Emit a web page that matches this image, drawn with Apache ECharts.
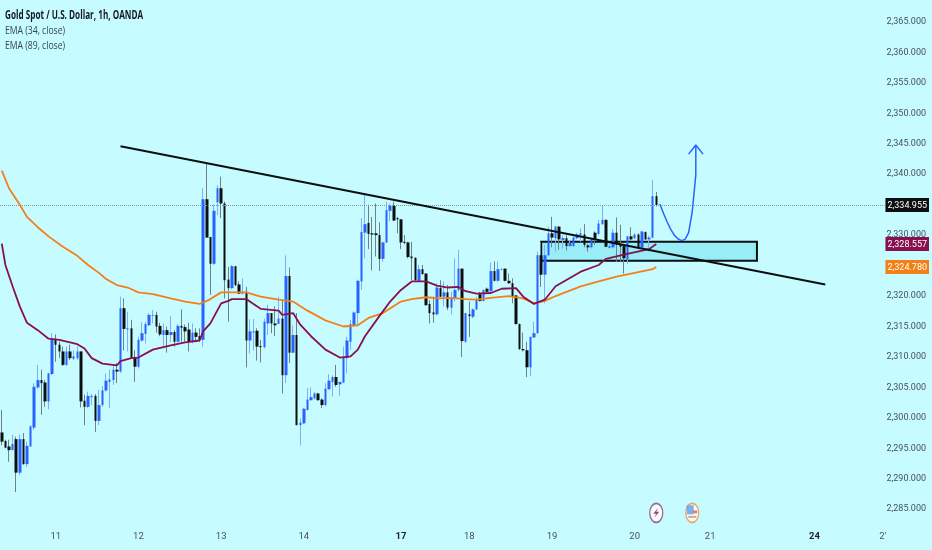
<!DOCTYPE html>
<html><head><meta charset="utf-8">
<style>html,body{margin:0;padding:0;background:#c6fbff}#c{width:932px;height:550px}</style>
<script src="https://cdn.jsdelivr.net/npm/echarts@6/dist/echarts.min.js"></script>
</head><body><div id="c"></div>
<script>
const titleText = 'Gold Spot / U.S. Dollar, 1h, OANDA';
const studyTexts = ['EMA (34, close)','EMA (89, close)'];
const barCount = 246;
const dayIndex  = [15,38,61,84,111,130,153,176,197,226,245];
const dayLabels = ['11','12','13','14','17','18','19','20','21','24',"2'"];
const strongDays = ['17','24'];
const priceTicks = [2285,2290,2295,2300,2305,2310,2315,2320,2325,2330,2335,2340,2345,2350,2355,2360,2365];
const lastPrice = 2334.955, ema34Last = 2328.557, ema89Last = 2324.780;
// [open, close, low, high]
const ohlc = [
[2297.6,2296.1,2295.5,2301.3],[2296.2,2295.1,2295.0,2296.4],[2295.3,2294.7,2292.8,2296.4],[2294.7,2295.7,2294.7,2297.2],
[2296.5,2291.0,2287.8,2296.9],[2291.0,2296.5,2290.6,2297.2],[2296.5,2292.4,2292.3,2297.5],[2292.4,2295.4,2291.9,2296.1],
[2295.3,2298.6,2295.3,2298.8],[2298.4,2305.1,2298.0,2305.7],[2305.0,2306.2,2304.8,2308.7],[2306.2,2305.7,2300.5,2307.9],
[2305.8,2302.7,2301.8,2306.2],[2302.7,2307.3,2301.4,2307.4],[2307.2,2312.9,2307.0,2313.9],[2312.9,2312.0,2309.2,2313.7],
[2312.0,2310.9,2309.8,2312.5],[2310.9,2308.7,2308.5,2311.7],[2308.7,2310.9,2308.5,2311.7],[2310.9,2309.8,2309.5,2312.0],
[2309.7,2310.1,2309.5,2311.1],[2309.8,2310.9,2309.5,2311.7],[2310.9,2302.7,2301.7,2310.9],[2302.8,2301.8,2298.8,2303.8],
[2301.8,2303.6,2301.6,2304.3],[2303.4,2303.6,2302.1,2303.9],[2303.6,2299.5,2297.7,2303.9],[2299.5,2302.1,2298.8,2304.6],
[2302.1,2304.5,2301.8,2305.2],[2304.5,2306.1,2304.3,2307.3],[2305.9,2306.3,2301.6,2307.9],[2306.2,2307.9,2305.4,2308.7],
[2307.9,2307.6,2305.7,2309.0],[2307.6,2318.0,2307.4,2319.9],[2318.0,2314.6,2311.1,2319.6],[2314.5,2314.7,2310.9,2317.4],
[2314.7,2309.9,2309.8,2316.1],[2310.0,2308.4,2305.9,2311.1],[2308.4,2312.8,2308.1,2313.3],[2312.7,2313.9,2312.5,2315.7],
[2313.8,2315.4,2312.2,2315.8],[2315.2,2316.9,2315.1,2317.2],[2316.8,2316.9,2315.5,2317.7],[2316.9,2315.0,2314.0,2317.4],
[2315.1,2313.7,2313.4,2315.6],[2313.6,2314.4,2311.7,2315.5],[2314.4,2313.6,2310.7,2315.0],[2313.6,2314.1,2312.5,2316.7],
[2314.1,2312.5,2311.7,2314.4],[2312.5,2315.1,2312.4,2315.4],[2315.1,2314.8,2312.5,2317.8],[2314.9,2314.2,2312.5,2315.3],
[2314.5,2312.6,2310.9,2315.6],[2312.5,2314.0,2312.2,2315.5],[2314.0,2313.3,2312.4,2314.7],[2313.4,2312.8,2312.5,2314.7],
[2312.8,2335.9,2311.7,2337.7],[2335.9,2329.6,2329.6,2341.7],[2329.7,2325.3,2320.2,2329.7],[2325.3,2334.0,2325.1,2335.0],
[2335.4,2337.7,2333.3,2338.2],[2337.7,2335.2,2332.8,2339.6],[2335.2,2322.6,2319.6,2335.5],[2322.7,2321.3,2315.8,2324.8],
[2321.3,2324.9,2321.1,2325.1],[2324.9,2321.8,2321.6,2324.9],[2321.9,2320.4,2320.3,2322.4],[2320.4,2320.7,2320.3,2322.9],
[2320.7,2312.7,2308.3,2321.5],[2312.7,2314.2,2310.6,2316.2],[2314.0,2314.2,2311.1,2316.2],[2314.3,2311.7,2309.4,2314.7],
[2311.8,2311.6,2309.1,2312.8],[2311.6,2315.8,2311.4,2316.3],[2315.5,2317.2,2313.6,2318.6],[2317.2,2315.5,2313.9,2317.2],
[2315.5,2315.2,2313.4,2318.3],[2315.4,2316.3,2315.4,2319.9],[2316.3,2307.0,2304.0,2319.3],[2307.0,2323.3,2305.7,2326.7],
[2323.3,2310.7,2309.0,2324.7],[2310.7,2313.6,2310.6,2315.2],[2313.6,2298.8,2298.8,2317.2],[2298.8,2299.2,2295.5,2299.9],
[2299.1,2301.5,2299.0,2301.6],[2301.3,2303.0,2301.2,2304.9],[2302.9,2303.4,2302.8,2305.0],[2303.2,2304.0,2303.0,2304.3],
[2304.0,2302.9,2302.8,2304.1],[2303.0,2302.1,2301.6,2303.2],[2302.1,2304.8,2301.9,2305.7],[2304.7,2306.1,2304.6,2307.2],
[2305.9,2306.7,2303.5,2307.0],[2306.7,2305.4,2305.1,2308.7],[2305.5,2305.9,2303.6,2305.9],[2305.8,2309.9,2305.7,2311.7],
[2309.8,2312.7,2307.3,2313.3],[2312.5,2315.4,2311.1,2316.1],[2315.2,2317.3,2315.1,2317.5],[2317.2,2322.5,2315.2,2322.7],
[2322.4,2330.5,2321.0,2332.8],[2330.4,2331.8,2326.2,2336.6],[2332.0,2330.2,2327.7,2335.0],[2330.3,2330.1,2324.2,2333.0],
[2330.3,2330.0,2326.5,2335.2],[2330.0,2326.1,2324.1,2332.1],[2326.1,2328.8,2325.6,2328.9],[2328.8,2334.1,2328.7,2335.5],
[2334.0,2334.8,2332.3,2335.2],[2334.8,2332.4,2332.3,2335.5],[2332.8,2332.6,2330.3,2333.0],[2332.6,2328.8,2327.7,2332.6],
[2328.9,2328.7,2328.5,2330.0],[2328.8,2326.4,2326.2,2328.9],[2326.5,2326.2,2322.6,2328.9],[2326.3,2322.6,2322.5,2326.3],
[2322.5,2324.4,2322.4,2325.1],[2324.4,2323.6,2323.5,2325.1],[2323.7,2318.5,2318.4,2323.7],[2318.7,2317.2,2315.5,2319.3],
[2317.3,2317.0,2315.6,2319.9],[2317.0,2321.4,2316.8,2322.1],[2321.3,2319.9,2319.8,2322.6],[2319.9,2320.6,2318.3,2322.4],
[2320.6,2318.1,2317.7,2321.8],[2318.1,2319.6,2317.0,2320.7],[2319.5,2321.0,2319.1,2326.2],[2321.0,2324.5,2320.7,2327.6],
[2324.5,2312.6,2310.0,2324.5],[2312.5,2317.2,2312.3,2317.2],[2317.0,2316.7,2313.3,2319.1],[2316.6,2317.8,2316.3,2318.0],
[2317.8,2319.4,2317.7,2319.9],[2320.3,2319.2,2319.1,2320.7],[2319.2,2321.0,2319.1,2321.1],[2321.2,2320.7,2320.6,2321.4],
[2320.8,2324.1,2320.7,2325.5],[2324.1,2322.5,2322.4,2325.7],[2322.5,2324.4,2322.4,2325.7],[2324.3,2324.4,2324.2,2324.6],
[2324.5,2322.5,2322.4,2324.5],[2322.5,2322.1,2322.0,2323.7],[2322.1,2320.0,2318.8,2322.9],[2320.1,2315.4,2315.3,2320.1],
[2315.4,2311.3,2311.1,2315.5],[2311.3,2311.1,2310.9,2314.0],[2311.1,2308.3,2306.7,2312.5],[2308.3,2313.3,2306.8,2313.3],
[2313.2,2313.9,2313.1,2315.8],[2313.9,2326.7,2313.8,2327.3],[2326.7,2323.5,2321.5,2328.9],[2323.5,2326.7,2318.8,2328.4],
[2326.7,2330.3,2326.6,2331.4],[2330.3,2329.6,2328.0,2333.0],[2329.5,2331.4,2327.3,2331.5],[2331.4,2329.3,2327.6,2331.5],
[2329.2,2329.5,2327.8,2330.0],[2329.5,2328.2,2327.5,2330.0],[2328.2,2328.7,2328.1,2329.1],[2328.2,2329.6,2328.1,2330.0],
[2329.5,2330.1,2329.3,2330.4],[2330.0,2330.3,2328.9,2331.1],[2330.1,2328.4,2328.0,2331.8],[2328.3,2328.0,2327.3,2328.6],
[2328.0,2329.3,2327.8,2329.5],[2330.4,2329.4,2328.4,2330.6],[2330.2,2331.9,2330.0,2332.5],[2331.8,2332.5,2331.7,2334.9],
[2332.5,2328.1,2328.0,2332.6],[2327.9,2328.2,2327.8,2328.6],[2328.0,2330.4,2327.8,2331.0],[2330.4,2328.4,2325.6,2332.9],
[2328.5,2328.1,2325.6,2331.7],[2328.2,2326.2,2323.7,2328.2],[2326.0,2329.8,2325.3,2329.9],[2329.8,2329.3,2329.1,2331.3],
[2329.5,2330.1,2329.3,2330.3],[2330.1,2328.0,2327.8,2330.3],[2328.0,2330.6,2327.8,2330.7],[2330.5,2329.3,2329.2,2330.6],
[2329.3,2329.6,2327.3,2329.9],[2329.6,2336.4,2329.5,2339.1],[2336.4,2334.96,2334.7,2337.1]
];
const ema89 = [[0,2340.6],[2,2337.7],[5,2335.0],[7,2333.0],[10,2331.3],[13,2329.8],[17,2328.1],[21,2326.6],[24,2325.1],[27,2323.8],[29,2322.8],[32,2321.8],[35,2321.4],[38,2320.6],[42,2320.3],[47,2319.6],[51,2319.1],[55,2318.7],[57,2319.2],[58,2319.5],[61,2320.6],[64,2320.6],[68,2320.6],[72,2319.9],[77,2319.4],[81,2319.1],[85,2317.6],[90,2316.0],[95,2315.0],[99,2315.2],[102,2316.4],[106,2317.2],[111,2319.1],[114,2319.5],[118,2319.8],[122,2319.6],[125,2319.7],[129,2319.5],[132,2319.4],[136,2319.7],[141,2320.0],[145,2319.6],[148,2318.8],[151,2319.2],[154,2320.0],[161,2321.6],[166,2322.4],[171,2323.2],[176,2323.8],[181,2324.4],[182,2324.78]];
const ema34 = [[0,2328.6],[1,2325.1],[3,2321.6],[5,2318.3],[7,2315.6],[10,2314.4],[13,2313.0],[16,2312.8],[19,2312.4],[21,2312.1],[23,2311.4],[25,2309.8],[28,2308.9],[32,2308.6],[33,2309.3],[36,2309.8],[38,2309.9],[42,2311.2],[47,2311.9],[51,2312.4],[55,2312.7],[56,2314.2],[58,2315.5],[61,2318.8],[63,2319.2],[64,2319.5],[68,2319.5],[70,2318.7],[72,2317.9],[77,2317.6],[78,2316.9],[81,2317.2],[83,2315.3],[86,2313.4],[90,2311.2],[94,2309.9],[97,2310.1],[99,2311.2],[101,2313.4],[105,2316.7],[108,2319.1],[111,2321.0],[114,2322.4],[118,2322.4],[121,2321.7],[124,2321.4],[127,2321.5],[129,2320.8],[132,2320.4],[136,2320.5],[139,2321.2],[143,2321.3],[145,2319.9],[148,2318.7],[151,2319.4],[154,2321.6],[161,2324.0],[166,2325.1],[168,2326.1],[173,2326.8],[180,2327.7],[182,2328.557]];
const trendLine = [[33,2344.6],[229,2321.9]];
const forecastCurve = [[183,2335.1],[184,2333.6],[185,2332.2],[186,2331.0],[187,2330.0],[188,2329.4],[189,2329.1],[190,2329.3],[191,2330.4],[192,2333.8],[193,2339.9],[193,2344.8]];
const forecastHead = [[191,2343.3],[193,2344.8],[195,2343.3]];
const zoneBounds = {from:150,to:210,top:2328.9,bottom:2325.8};
const eventPrice = 2284.4;
const events = [[182,eventPrice],[192,eventPrice]];

const categories = Array.from({length:barCount},(_,i)=>String(i));
const bodies = ohlc.map(r=>[r[0],r[1],Math.min(r[0],r[1]),Math.max(r[0],r[1])]);
const fmt = v=>v.toLocaleString('en-US',{minimumFractionDigits:3,maximumFractionDigits:3});
const FONT = 'Roboto,sans-serif';
const BG = '#c6fbff';
const AXIS_SIZE = 9;

const chart = echarts.init(document.getElementById('c'),null,{renderer:'canvas'});
chart.setOption({
  animation:false,
  backgroundColor:BG,
  graphic:[
    {type:'text',x:5,y:10,scaleX:0.71,silent:true,z:100,style:{text:titleText,font:'bold 11.5px "Open Sans"',fill:'#151a22'}},
    {type:'text',x:5,y:25,scaleX:0.75,silent:true,z:100,style:{text:studyTexts[0],font:'11.5px "Open Sans"',fill:'#36474f'}},
    {type:'text',x:5,y:40,scaleX:0.75,silent:true,z:100,style:{text:studyTexts[1],font:'11.5px "Open Sans"',fill:'#36474f'}}
  ],
  grid:{left:0,top:0,width:885.6,height:526,containLabel:false},
  xAxis:{type:'category',data:categories,boundaryGap:true,
    axisLine:{show:false},axisTick:{show:false},splitLine:{show:false},
    axisLabel:{margin:6,fontFamily:FONT,fontSize:AXIS_SIZE+0.5,color:'#465359',
      hideOverlap:false,showMinLabel:true,showMaxLabel:true,
      interval:(i)=>dayIndex.includes(i),
      formatter:(v,i)=>{const l=dayLabels[dayIndex.indexOf(+v)]||'';return strongDays.includes(l)?'{s|'+l+'}':l;},
      rich:{s:{fontFamily:FONT,fontSize:AXIS_SIZE+0.5,fontWeight:'bold',color:'#1c2226'}}}},
  yAxis:{type:'value',position:'right',min:2282.24,max:2368.61,
    axisLine:{show:false},axisTick:{show:false},splitLine:{show:false},
    axisLabel:{show:true,margin:44.4,align:'right',fontFamily:FONT,fontSize:AXIS_SIZE,color:'#465359',
      customValues:priceTicks.concat([lastPrice,ema34Last,ema89Last]),
      showMinLabel:true,showMaxLabel:true,hideOverlap:false,
      formatter:v=>{
        if(v===lastPrice) return '{k|'+fmt(v)+'}';
        if(v===ema34Last) return '{m|'+fmt(v)+'}';
        if(v===ema89Last) return '{o|'+fmt(v)+'}';
        return '{p|'+fmt(v)+'}';},
      rich:{
        p:{fontFamily:FONT,fontSize:AXIS_SIZE,color:'#465359',padding:[0,3,0,0]},
        k:{fontFamily:FONT,fontSize:AXIS_SIZE,color:'#fff',backgroundColor:'#0b0f10',padding:[3,2,2,2]},
        m:{fontFamily:FONT,fontSize:AXIS_SIZE,color:'#fff',backgroundColor:'#88104e',padding:[3,2,2,2]},
        o:{fontFamily:FONT,fontSize:AXIS_SIZE,color:'#fff',backgroundColor:'#f57f17',padding:[3,2,2,2]}}}},
  series:[
    {name:'zone',type:'line',data:[],silent:true,z:2,
      markArea:{silent:true,itemStyle:{color:'rgba(95,220,235,0.45)',borderColor:'#0b0f10',borderWidth:2},
        data:[[{xAxis:zoneBounds.from,yAxis:zoneBounds.top},{xAxis:zoneBounds.to,yAxis:zoneBounds.bottom}]]}},
    {name:'wicks',type:'candlestick',data:ohlc,barWidth:1,z:3,silent:true,
      itemStyle:{color:'#80aeff',color0:'#6d8285',borderColor:'#80aeff',borderColor0:'#6d8285',borderWidth:1}},
    {name:'bodies',type:'candlestick',data:bodies,barWidth:3,z:4,silent:true,
      itemStyle:{color:'#2962ff',color0:'#0b0f10',borderColor:'#2962ff',borderColor0:'#0b0f10',borderWidth:0},
      markLine:{silent:true,symbol:'none',label:{show:false},
        lineStyle:{type:'dotted',color:'#7d9a9c',width:1},data:[{yAxis:lastPrice}]}},
    {name:'EMA 89',type:'line',data:ema89,showSymbol:false,smooth:false,z:5,silent:true,lineStyle:{color:'#f57f17',width:1.8}},
    {name:'EMA 34',type:'line',data:ema34,showSymbol:false,smooth:false,z:6,silent:true,lineStyle:{color:'#88104e',width:1.8}},
    {name:'trend',type:'line',data:trendLine,showSymbol:false,z:7,silent:true,lineStyle:{color:'#0b0f10',width:2}},
    {name:'forecast',type:'line',data:forecastCurve,showSymbol:false,smooth:false,z:8,silent:true,lineStyle:{color:'#2962ff',width:1.5}},
    {name:'forecastHead',type:'line',data:forecastHead,showSymbol:false,z:8,silent:true,lineStyle:{color:'#2962ff',width:1.5}},
    {name:'eventRing',type:'scatter',data:[
        {value:events[0],itemStyle:{borderColor:'#8f3f78'}},
        {value:events[1],itemStyle:{borderColor:'#f0913c'}}],
      symbol:'circle',symbolSize:[13,19],z:9,silent:true,itemStyle:{color:'#fff',borderWidth:1.5}},
    {name:'bolt',type:'scatter',data:[events[0]],symbol:'path://M6 0L1 6H4L2 10L7 4H4Z',symbolSize:[6,10],z:10,silent:true,itemStyle:{color:'#88104e'}},
    {name:'flagBlue',type:'scatter',data:[events[1]],symbol:'rect',symbolSize:[7,9],symbolOffset:[-2,-3],z:10,silent:true,itemStyle:{color:'#5b9bf0'}},
    {name:'flagRed',type:'scatter',data:[events[1]],symbol:'rect',symbolSize:[4,3],symbolOffset:[3,-1],z:10,silent:true,itemStyle:{color:'#e8602c'}},
    {name:'flagRed2',type:'scatter',data:[events[1]],symbol:'rect',symbolSize:[8,2],symbolOffset:[0,4],z:10,silent:true,itemStyle:{color:'#e88a5c'}}
  ]
});
</script></body></html>
